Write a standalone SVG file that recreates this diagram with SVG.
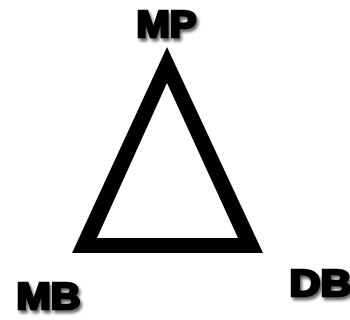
<svg xmlns="http://www.w3.org/2000/svg" width="350" height="320" viewBox="0 0 350 320">
<defs>
<filter id="sh" x="-20%" y="-20%" width="140%" height="160%">
<feDropShadow dx="2" dy="3" stdDeviation="1.8" flood-color="#000" flood-opacity="0.6"/>
</filter>
<style>
.lbl{font-family:"Liberation Sans",Arial,sans-serif;font-weight:bold;font-size:36px;fill:#000;stroke:#000;stroke-width:2.6px;stroke-linejoin:miter;filter:url(#sh)}
</style>
</defs>
<rect width="350" height="320" fill="#fff"/>
<g id="connectors">
<path d="M167,47 L263,253 L72,253 Z M167,83 L97,238 L238,238 Z" fill="#000" fill-rule="evenodd"/>
</g>
<g id="MP"><text class="lbl" x="136.5" y="37" textLength="60" lengthAdjust="spacingAndGlyphs">MP</text></g>
<g id="MB"><text class="lbl" x="16.5" y="309" textLength="64" lengthAdjust="spacingAndGlyphs">MB</text></g>
<g id="DB"><text class="lbl" x="289.5" y="296" textLength="62" lengthAdjust="spacingAndGlyphs">DB</text></g>
</svg>
